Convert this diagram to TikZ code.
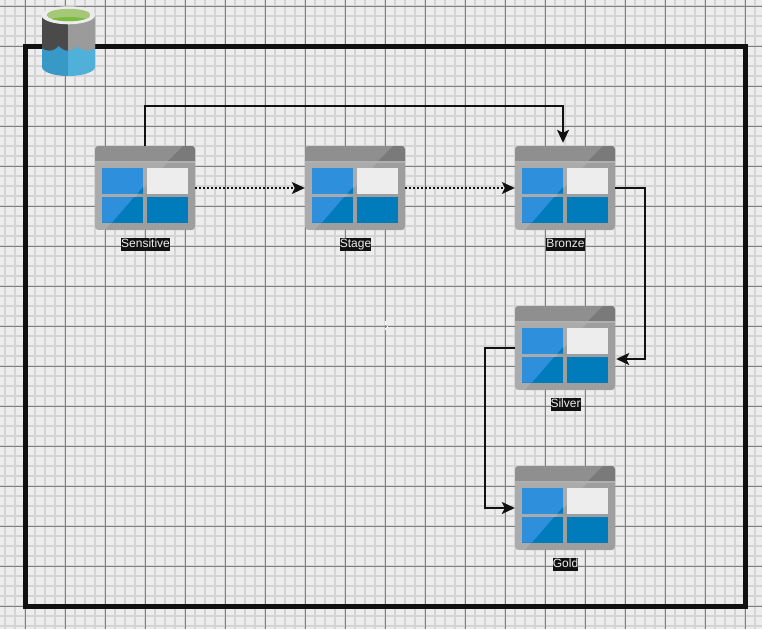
\documentclass[tikz,border=0pt]{standalone}
\usepackage{fontspec}
\setmainfont{Liberation Sans}
\usetikzlibrary{arrows.meta}

\definecolor{paper}{HTML}{EDEDED}
\definecolor{gridMinor}{HTML}{D4D4D4}
\definecolor{gridMajor}{HTML}{808080}
\definecolor{ink}{HTML}{111111}
\definecolor{tableHead}{HTML}{8F8F8F}
\definecolor{tableCorner}{HTML}{7A7A7A}
\definecolor{tableStrip}{HTML}{B0B0B0}
\definecolor{tableBody}{HTML}{ABABAB}
\definecolor{tableShade}{HTML}{9E9E9E}
\definecolor{cellLight}{HTML}{2E8FDC}
\definecolor{cellDark}{HTML}{007CBD}
\definecolor{bucketGrey}{HTML}{4A4A4A}
\definecolor{bucketSilver}{HTML}{9B9B9B}
\definecolor{bucketBlue}{HTML}{3999C6}
\definecolor{bucketSky}{HTML}{50B0D9}
\definecolor{bucketRim}{HTML}{ECECEC}
\definecolor{bucketGreen}{HTML}{A5C878}
\definecolor{bucketLeaf}{HTML}{7CBB42}

\tikzset{
  tableBox/.style={minimum width=100pt,minimum height=84pt,inner sep=0pt},
  tableLabel/.style={fill=ink,text=paper,inner sep=0pt,text height=10pt,text depth=3.5pt,
    font=\fontsize{12}{14}\selectfont},
  link/.style={line width=1.8pt,ink,-{Stealth[length=13pt,width=12pt,inset=3pt]}},
  dotlink/.style={line width=1.5pt,ink,dash pattern=on 2pt off 2pt,
    -{Stealth[length=13pt,width=12pt,inset=3pt,sep=0pt]}},
  tableIcon/.pic={
    % origin is the top left corner of the icon
    \begin{scope}
      \clip[rounded corners=3.5pt] (0,0) rectangle (100,84);
      \fill[tableBody] (0,0) rectangle (100,84);
      \fill[tableShade] (88,0) -- (100,0) -- (100,84) -- (10,84) -- cycle;
      \fill[tableHead] (0,0) rectangle (100,15);
      \fill[tableCorner] (88,0) -- (100,0) -- (100,15) -- (73,15) -- cycle;
      \fill[tableStrip] (0,15) rectangle (100,16.5);
    \end{scope}
    \fill[cellLight] (7,22) rectangle (48,47.5);
    \fill[cellDark] (48,47.5) -- (48,41) -- (42.5,47.5) -- cycle;
    \fill[paper] (52,22) rectangle (93,47.5);
    \fill[cellDark] (7,51) rectangle (48,76.5);
    \fill[cellLight] (7,51) -- (39,51) -- (17,76.5) -- (7,76.5) -- cycle;
    \fill[cellDark] (52,51) rectangle (93,76.5);
  }
}

\begin{document}
\begin{tikzpicture}[x=1pt,y=-1pt]
  \useasboundingbox (0,0) rectangle (762,629);
  \fill[paper] (0,0) rectangle (762,629);

  % grid
  \foreach \gx in {5,15,...,755}
    \draw[gridMinor,line width=2pt] (\gx,0) -- (\gx,629);
  \foreach \gy in {6,16,...,626}
    \draw[gridMinor,line width=2pt] (0,\gy) -- (762,\gy);
  \foreach \gx in {25,65,...,745}
    \draw[gridMajor,line width=1pt] (\gx,0) -- (\gx,629);
  \foreach \gy in {6,46,...,606}
    \draw[gridMajor,line width=1pt] (0,\gy) -- (762,\gy);

  % stray marks near the middle
  \draw[white,line width=1pt] (385,321) -- (385,324.5) (385,327.5) -- (385,330) (387,325.5) -- (387,326.5);

  \draw[ink,line width=5pt] (25.5,46) rectangle (745.5,606);

  % lake bucket
  \fill[bucketBlue] (42,15) -- (68,15) -- (68,76) arc[start angle=90,end angle=180,x radius=26,y radius=9] -- cycle;
  \fill[bucketSky] (68,15) -- (95,15) -- (95,67) arc[start angle=0,end angle=90,x radius=27,y radius=9] -- cycle;
  \fill[bucketGrey] (42,15) -- (68,15) -- (68,50.7)
    .. controls (64,50.7) and (61,48) .. (58.3,46)
    .. controls (56,49) and (53,50.7) .. (50,50.7)
    .. controls (47,50.7) and (44,50) .. (42,48.3) -- cycle;
  \fill[bucketSilver] (68,15) -- (95,15) -- (95,48.3)
    .. controls (93,50) and (90,50.7) .. (87.3,50.7)
    .. controls (83,50.7) and (80,48) .. (77.3,46)
    .. controls (75,49) and (71,50.7) .. (68,50.7) -- cycle;
  \fill[bucketRim] (68.3,15.3) ellipse[x radius=26.7,y radius=9];
  \begin{scope}
    \clip (68.7,15) ellipse[x radius=22,y radius=6.2];
    \fill[bucketGreen] (46,8) rectangle (91,22);
    \fill[bucketLeaf] (68.7,23) ellipse[x radius=24,y radius=6];
  \end{scope}

  % tables
  \pic at (95,146) {tableIcon};
  \pic at (305,146) {tableIcon};
  \pic at (515,146) {tableIcon};
  \pic at (515,306) {tableIcon};
  \pic at (515,466) {tableIcon};

  \node[tableBox] (sensitive) at (145,188) {};
  \node[tableBox] (stage) at (355,188) {};
  \node[tableBox] (bronze) at (565,188) {};
  \node[tableBox] (silver) at (565,348) {};
  \node[tableBox] (gold) at (565,508) {};

  \node[tableLabel] (sensitiveText) at (145.5,244.5) {Sensitive};
  \node[tableLabel] (stageText) at (355.5,244.5) {Stage};
  \node[tableLabel] (bronzeText) at (565.5,244.5) {Bronze};
  \node[tableLabel] (silverText) at (565.5,404.5) {Silver};
  \node[tableLabel] (goldText) at (565.5,564.5) {Gold};

  \draw[link,shorten >=3pt] (sensitive.north) -- ++(0,-40) -| ([xshift=-2pt]bronze.north);
  \draw[dotlink] (sensitive.east) -- (stage.west);
  \draw[dotlink] (stage.east) -- (bronze.west);
  \draw[link,shorten >=1pt] (bronze.east) -- ++(30,0) |- ([yshift=-11pt]silver.east);
  \draw[link] (silver.west) -- ++(-30,0) |- (gold.west);
\end{tikzpicture}
\end{document}
